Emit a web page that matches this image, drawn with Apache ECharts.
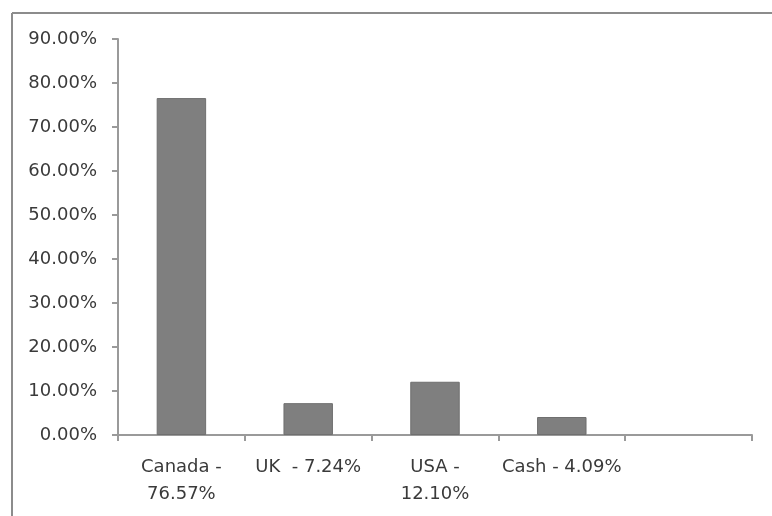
<!DOCTYPE html>
<html><head><meta charset="utf-8">
<script src="https://cdn.jsdelivr.net/npm/echarts@6/dist/echarts.min.js"></script>
<style>html,body{margin:0;padding:0;background:#fff}#c{width:772px;height:516px}</style>
</head><body><div id="c"></div>
<script>
const categories = ['Canada -\n76.57%', 'UK  - 7.24%', 'USA -\n12.10%', 'Cash - 4.09%', ''];
const values = [76.57, 7.24, 12.10, 4.09, null];
const yTicks = [0, 10, 20, 30, 40, 50, 60, 70, 80, 90];

const chart = echarts.init(document.getElementById('c'), null, {renderer: 'canvas'});
chart.setOption({
  animation: false,
  backgroundColor: '#ffffff',
  graphic: [
    {type: 'line', shape: {x1: 12, y1: 13, x2: 772, y2: 13}, style: {stroke: '#8c8c8c', lineWidth: 2}, z: 10},
    {type: 'line', shape: {x1: 12, y1: 13, x2: 12, y2: 516}, style: {stroke: '#8c8c8c', lineWidth: 2}, z: 10}
  ],
  grid: {left: 118, right: 20, top: 39, bottom: 81, containLabel: false},
  xAxis: {
    type: 'category',
    data: categories,
    axisLine: {lineStyle: {color: '#9a9a9a', width: 2}},
    axisTick: {show: true, alignWithLabel: false, length: 6, lineStyle: {color: '#9a9a9a', width: 2}},
    axisLabel: {color: '#3a3a3a', fontFamily: 'DejaVu Sans', fontSize: 18, margin: 19, lineHeight: 27, interval: 0}
  },
  yAxis: {
    type: 'value',
    min: yTicks[0], max: yTicks[yTicks.length - 1], interval: 10,
    axisLine: {show: true, lineStyle: {color: '#9a9a9a', width: 2}},
    axisTick: {show: true, length: 6, lineStyle: {color: '#9a9a9a', width: 2}},
    splitLine: {show: false},
    axisLabel: {color: '#3a3a3a', fontFamily: 'DejaVu Sans', fontSize: 18, margin: 21,
      formatter: v => v.toFixed(2) + '%'}
  },
  series: [{
    type: 'bar',
    data: values,
    barWidth: '39%',
    itemStyle: {color: '#7f7f7f', borderColor: '#6f6f6f', borderWidth: 1}
  }]
});
</script></body></html>
